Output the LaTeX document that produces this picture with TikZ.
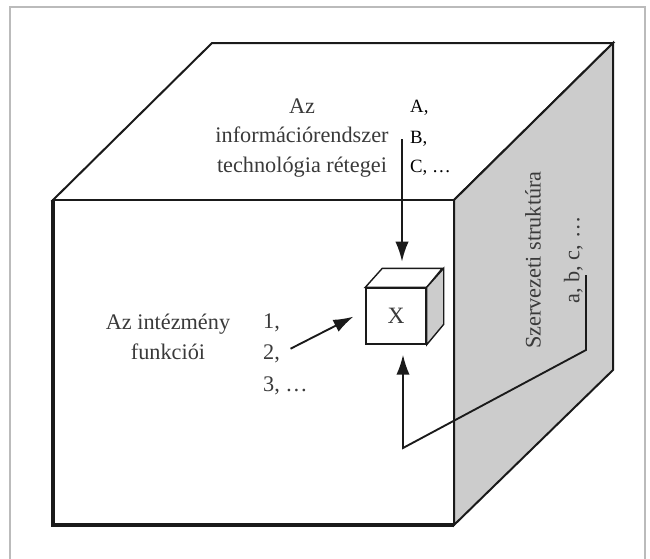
\documentclass[tikz,border=0pt]{standalone}
\usepackage{fontspec}
\setmainfont{Liberation Serif}
\usetikzlibrary{arrows.meta,calc}
\definecolor{CBFrame}{HTML}{BBBBBB}
\definecolor{CBSide}{HTML}{CCCCCC}
\definecolor{CBInk}{HTML}{1A1A1A}
\definecolor{CBFade}{HTML}{3A3A3A}
\tikzset{
  flow/.style={-{Latex[length=6mm,width=4mm]},CBInk,line width=1.6pt},
  cubeedge/.style={draw=CBInk,line width=1.7pt},
  face/.style={cubeedge,fill=white},
  sideface/.style={cubeedge,fill=CBSide},
  xedge/.style={draw=CBInk,line width=1.2pt},
  xface/.style={xedge,fill=white,minimum width=18mm,minimum height=16.8mm,inner sep=0pt,
                text=CBFade,font=\fontsize{20}{24}\selectfont},
  fade/.style={text=CBFade,font=\fontsize{19}{25.5}\selectfont,align=center},
  listtxt/.style={text=black,font=\fontsize{16}{19}\selectfont,anchor=west,inner sep=0pt},
  numtxt/.style={text=CBFade,font=\fontsize{19}{23}\selectfont,anchor=west,inner sep=0pt},
}

\begin{document}
\begin{tikzpicture}[x=.3mm,y=-.3mm]
  \useasboundingbox (0,0) rectangle (650,558);
  \draw[CBFrame,line width=2pt] (10,575) -- (10,7) -- (645,7) -- (645,575);

  % big cube
  \draw[face] (53,200) -- (212,43) -- (613,43) -- (454,200) -- cycle;
  \draw[sideface] (454,200) -- (613,43) -- (613,370) -- (454,525) -- cycle;
  \draw[face] (53,200) rectangle (454,525);
  \draw[CBInk,line width=2.8pt] (53,200) -- (53,525) -- (454,525);

  % top face
  \node[fade] (layers) at (302,138) {Az\\információrendszer\\technológia rétegei};
  \node[listtxt] (la) at (410,108) {A,};
  \node[listtxt] (lb) at (410,139) {B,};
  \node[listtxt] (lc) at (410,168) {C, \ldots};

  % small cube
  \node[xface] (xbox) at (396,316) {X};
  \draw[xedge,fill=white] (xbox.north west) -- ++(17,-19) -- ++(60,0) -- (xbox.north east) -- cycle;
  \draw[xedge,fill=CBSide] (xbox.north east) -- ++(17,-19) -- ++(0,56) -- (xbox.south east) -- cycle;
  \coordinate (xtop) at ($(xbox.north)+(8,-19)$);

  % front face
  \node[fade] (func) at (168,337) {Az intézmény\\funkciói};
  \node[numtxt] (n1) at (263,323) {1,};
  \node[numtxt] (n2) at (263,354) {2,};
  \node[numtxt] (n3) at (263,386) {3, \ldots};

  % side face
  \node[fade,rotate=90,font=\fontsize{19}{33}\selectfont] (struct) at (554,260)
    {Szervezeti struktúra\\a, b, c, \ldots};

  % arrows
  \coordinate (lbarr) at ($(lb.west)+(-8,0)$);
  \draw[flow,shorten >=2mm] (lbarr) -- (lbarr |- xtop);
  \draw[flow,shorten <=3.5mm,shorten >=4mm] (n2.east) -- (xbox.170);
  \coordinate (sstart) at (586,275);
  \coordinate (loopb) at (403,448);
  \draw[flow,shorten >=3mm] (sstart) -- (sstart |- 0,350) -- (loopb) -- (loopb |- xbox.south);
\end{tikzpicture}
\end{document}
